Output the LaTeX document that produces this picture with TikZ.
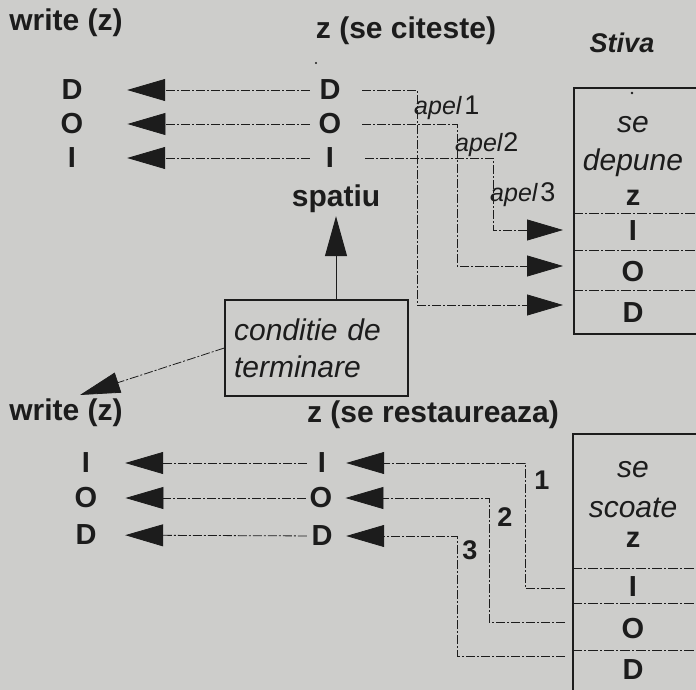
\documentclass[tikz,border=0pt]{standalone}
\usepackage{fontspec}
\setmainfont{Liberation Sans}
\usetikzlibrary{arrows.meta}
\definecolor{paper}{RGB}{205,205,203}
\definecolor{ink}{RGB}{28,28,28}
\begin{document}
\begin{tikzpicture}[x=1pt,y=-1pt,
  hd/.style={font=\fontsize{30}{32}\selectfont\bfseries, text=ink, inner sep=0pt},
  let/.style={font=\fontsize{29}{30}\selectfont\bfseries, text=ink, inner sep=0pt, minimum width=22pt},
  cel/.style={font=\fontsize{29}{30}\selectfont\bfseries, text=ink, inner sep=0pt},
  itl/.style={font=\fontsize{30}{32}\selectfont\itshape, text=ink, inner sep=0pt},
  num/.style={font=\fontsize{27}{28}\selectfont\bfseries, text=ink, inner sep=0pt},
  apel/.style={font=\fontsize{25}{27}\selectfont, text=ink, inner sep=0pt, anchor=west},
  conn/.style={draw=ink, line width=0.8pt, dash pattern=on 9pt off 2pt on 2pt off 2pt},
  big/.style={-{Triangle[length=38pt,width=22pt]}},
  stk/.style={draw=ink, line width=2.2pt, inner sep=0pt},
  div/.style={draw=ink, line width=0.8pt, dash pattern=on 10pt off 2pt on 2pt off 2pt}]
\clip (0,0) rectangle (696,690);
\fill[paper] (0,0) rectangle (696,690);

% ---------- top part ----------
\node[hd] (w1) at (66,23) {write (z)};
\node[hd] (zc) at (406,31) {z (se citeste)};
\node[font=\fontsize{27}{28}\selectfont\bfseries\itshape, text=ink, inner sep=0pt] (stiva) at (622,43) {Stiva};

\node[let] (lD1) at (72,90) {D};
\node[let] (lO1) at (72,124) {O};
\node[let] (lI1) at (72,158) {I};
\node[let] (mD1) at (330,90) {D};
\node[let] (mO1) at (330,124) {O};
\node[let] (mI1) at (330,158) {I};
\fill[ink] (316,63) circle (1.1pt);

\foreach \n in {D1,O1,I1}
  \draw[conn, big, shorten <=9pt, shorten >=44pt] (m\n) -- (l\n);

% stack (push)
\node[stk, anchor=north west, minimum width=150pt, minimum height=246pt] (stk1) at (573,87) {};
\draw[div] (573,213) -- (700,213);
\draw[div] (573,250) -- (700,250);
\draw[div] (573,290) -- (700,290);
\fill[ink] (632,93) circle (1.4pt);
\node[itl] (se1) at (633,125) {se};
\node[itl] (dep1) at (633,163) {depune};
\node[cel] (z1) at (633,198) {z};
\node[cel] (sI1) at (633,231) {I};
\node[cel] (sO1) at (633,272) {O};
\node[cel] (sD1) at (633,313) {D};

\coordinate (kD1) at (417,305); \coordinate (tD1) at (563,305);
\coordinate (kO1) at (457,266); \coordinate (tO1) at (563,266);
\coordinate (kI1) at (493,230); \coordinate (tI1) at (563,230);
\draw[conn, -{Triangle[length=36pt,width=21pt]}, shorten <=21pt] (mD1.east) -| (kD1) -- (tD1);
\draw[conn, -{Triangle[length=36pt,width=21pt]}, shorten <=21pt] (mO1.east) -| (kO1) -- (tO1);
\draw[conn, -{Triangle[length=36pt,width=21pt]}, shorten <=24pt] (mI1.east) -| (kI1) -- (tI1);

\node[apel] (ap1) at (414,108) {\itshape apel\hspace{3pt}\upshape\fontsize{27}{28}\selectfont 1};
\node[apel] (ap2) at (455,145) {\itshape apel\hspace{1pt}\upshape\fontsize{27}{28}\selectfont 2};
\node[apel] (ap3) at (490,195) {\itshape apel\hspace{3pt}\upshape\fontsize{27}{28}\selectfont 3};

% condition box
\node[hd] (sp) at (336,199) {spatiu};
\node[draw=ink, line width=2.2pt, anchor=north west, minimum width=183pt, minimum height=96pt,
      text width=165pt, inner xsep=9pt, inner ysep=0pt, align=left,
      font=\fontsize{30}{37}\selectfont\itshape, text=ink] (cond) at (224,299) {conditie de\\terminare};
\draw[draw=ink, line width=1pt, -{Triangle[length=40pt,width=22pt]}, shorten >=3pt] (sp |- cond.north) -- (sp.south);
\coordinate (tc) at (80,395);
\draw[conn, -{Triangle[length=40pt,width=21pt]}] (cond.west) -- (tc);

% ---------- bottom part ----------
\node[hd] (w2) at (66,413) {write (z)};
\node[hd] (zr) at (433,415) {z (se restaureaza)};

\node[let] (lI2) at (86,463) {I};
\node[let] (lO2) at (86,498) {O};
\node[let] (lD2) at (86,535) {D};
\node[let] (mI2) at (322,463) {I};
\node[let] (mO2) at (321,498) {O};
\node[let] (mD2) at (322,536) {D};

\foreach \n in {I2,O2,D2}
  \draw[conn, big, shorten <=4pt, shorten >=28pt] (m\n) -- (l\n);

% stack (pop)
\node[stk, anchor=north west, minimum width=150pt, minimum height=300pt] (stk2) at (572,433) {};
\draw[div] (572,568) -- (700,568);
\draw[div] (572,603) -- (700,603);
\draw[div] (572,650) -- (700,650);
\node[itl] (se2) at (633,470) {se};
\node[itl] (sc2) at (633,508) {scoate};
\node[cel] (z2) at (633,540) {z};
\node[cel] (sI2) at (633,587) {I};
\node[cel] (sO2) at (633,629) {O};
\node[cel] (sD2) at (633,670) {D};

\coordinate (e1) at (565,588); \coordinate (k1) at (525,588);
\coordinate (e2) at (565,622); \coordinate (k2) at (489,622);
\coordinate (e3) at (565,656); \coordinate (k3) at (457,656);
\draw[conn, big, shorten >=13pt] (e1) -- (k1) |- (mI2.east);
\draw[conn, big, shorten >=13pt] (e2) -- (k2) |- (mO2.east);
\draw[conn, big, shorten >=13pt] (e3) -- (k3) |- (mD2.east);

\node[num] (n1) at (542,480) {1};
\node[num] (n2) at (505,517) {2};
\node[num] (n3) at (470,550) {3};
\end{tikzpicture}
\end{document}
